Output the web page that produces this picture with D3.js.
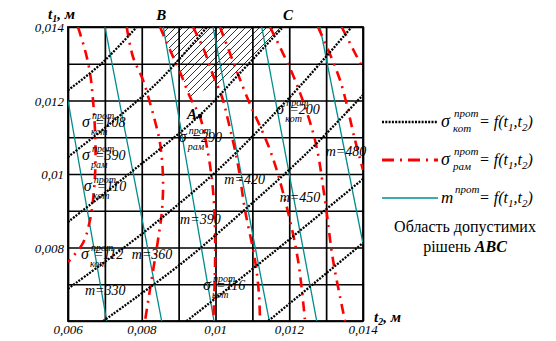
<!DOCTYPE html>
<html><head><meta charset="utf-8">
<script src="https://cdn.jsdelivr.net/npm/d3@7"></script>
<style>
body{margin:0;background:#fff}
svg text{font-family:"Liberation Serif","DejaVu Serif","Noto Serif","Times New Roman",serif}
</style>
</head><body>
<svg id="c" width="556" height="341" font-family="Liberation Serif, DejaVu Serif, serif"></svg>
<script>
// ---- data (t2, t1 in metres) ----
const domainT = [0.006, 0.014];
const gridValues = [0.006,0.007,0.008,0.009,0.010,0.011,0.012,0.013,0.014];
const xTickValues = [0.006,0.008,0.010,0.012,0.014];
const xTickLabels = ["0,006","0,008","0,01","0,012","0,014"];
const yTickValues = [0.008,0.010,0.012,0.014];
const yTickLabels = ["0,008","0,01","0,012","0,014"];

// sigma_kot contours (black dotted)
const kot1 = [[0.006,0.012278],[0.006922,0.013020],[0.007863,0.014]];
const kot2 = [[0.006,0.010463],[0.007329,0.011524],[0.008495,0.012558],[0.009770,0.014]];
const kot3 = [[0.006,0.008694],[0.007546,0.009918],[0.009580,0.011605],[0.010664,0.012748],[0.011831,0.014]];
const kot4 = [[0.006,0.006879],[0.008034,0.008395],[0.010122,0.010163],[0.012020,0.012095],[0.013694,0.014]];
const kot5 = [[0.006957,0.006],[0.009083,0.007570],[0.010936,0.009156],[0.012563,0.010653],[0.014,0.012150]];
const kot6 = [[0.009219,0.006],[0.011478,0.007796],[0.014,0.009864]];
const kot7 = [[0.011432,0.006],[0.014,0.008122]];

// sigma_ram contours (red dash-dot)
const ram1 = [[0.006271,0.014],[0.006461,0.013374],[0.006597,0.012748],[0.006678,0.012013],[0.006732,0.011197],[0.006746,0.010381],[0.006705,0.009565],[0.006597,0.008748],[0.006407,0.008122],[0.006,0.007605]];
const ram2 = [[0.007592,0.014],[0.007763,0.013184],[0.008034,0.012558],[0.008224,0.011932],[0.008386,0.011334],[0.008495,0.010844],[0.008576,0.009918],[0.008549,0.009020],[0.008441,0.008204],[0.008278,0.007197],[0.008088,0.006]];
const ram3 = [[0.008495,0.014],[0.008766,0.013374],[0.009037,0.012776],[0.009309,0.012095],[0.009580,0.011551],[0.009797,0.010571],[0.009932,0.009565],[0.009986,0.008476],[0.009986,0.007388],[0.009940,0.006]];
const ram4 = [[0.009390,0.014],[0.009688,0.013374],[0.009932,0.012694],[0.010176,0.012095],[0.010339,0.011469],[0.010610,0.010245],[0.010800,0.009020],[0.011071,0.007660],[0.011180,0.006707],[0.011207,0.006]];
const ram5 = [[0.010122,0.014],[0.010854,0.012095],[0.011478,0.010653],[0.011885,0.009293],[0.012237,0.007660],[0.012427,0.006]];
const ram6 = [[0.011478,0.014],[0.012156,0.012558],[0.012698,0.010925],[0.012969,0.009293],[0.013187,0.007660],[0.013512,0.006]];
const ram7 = [[0.012780,0.014],[0.013376,0.012558],[0.013783,0.010925],[0.014,0.010109]];
const ram8 = [[0.013422,0.014],[0.014,0.012865]];

// m contours (teal)
const m330 = [[0.006,0.012],[0.007050,0.006]];
const m360 = [[0.007003,0.014],[0.008541,0.006]];
const m390 = [[0.008584,0.014],[0.009959,0.006]];
const m420 = [[0.009932,0.014],[0.011459,0.006]];
const m450 = [[0.011253,0.014],[0.012745,0.006]];
const m480 = [[0.012834,0.014],[0.014,0.008103]];

const pointA = [0.009580, 0.011580];

// labels: [t2, t1, text]
const mLabels = [[0.006460,0.006700,"m=330"],[0.007730,0.007680,"m=360"],[0.009040,0.008640,"m=390"],[0.010240,0.009730,"m=420"],[0.011740,0.009240,"m=450"],[0.012990,0.010490,"m=480"]];
const sigmaLabels = [
  [0.006380,0.011280,"кот","=108"],
  [0.006380,0.010380,"рам","=390"],
  [0.006430,0.009540,"кот","=110"],
  [0.006350,0.007690,"кот","=112"],
  [0.009660,0.006840,"кот","=116"],
  [0.009000,0.010870,"рам","=290"],
  [0.011650,0.011630,"кот","=200"]
];

// ---- drawing ----
const svg = d3.select("#c");
const x = d3.scaleLinear(domainT, [68, 363]);
const y = d3.scaleLinear(domainT, [321, 27]);

const defs = svg.append("defs");
defs.append("clipPath").attr("id","plot").append("rect")
  .attr("x",68).attr("y",27).attr("width",295).attr("height",294);
const pat = defs.append("pattern").attr("id","hatch").attr("patternUnits","userSpaceOnUse")
  .attr("width",7).attr("height",7);
pat.append("path").attr("d","M-1,1 l2,-2 M0,7 l7,-7 M6,8 l2,-2").attr("stroke","#000").attr("stroke-width",0.8);

// grid via axes
svg.append("g").attr("transform","translate(0,321)")
  .call(d3.axisBottom(x).tickValues(gridValues).tickSize(-294).tickFormat(""));
svg.append("g").attr("transform","translate(68,0)")
  .call(d3.axisLeft(y).tickValues(gridValues).tickSize(-295).tickFormat(""));
svg.selectAll(".domain").remove();
svg.selectAll(".tick line").attr("stroke","#000").attr("stroke-width",1.7);
svg.append("rect").attr("x",68).attr("y",27).attr("width",295).attr("height",294)
  .attr("fill","none").attr("stroke","#000").attr("stroke-width",1.8);

// tick labels
svg.append("g").selectAll("text").data(xTickValues).join("text")
  .attr("x",d=>x(d)).attr("y",334).attr("text-anchor","middle")
  .attr("font-size",13).attr("font-style","italic").text((d,i)=>xTickLabels[i]);
svg.append("g").selectAll("text").data(yTickValues).join("text")
  .attr("x",64).attr("y",d=>y(d)+5).attr("text-anchor","end")
  .attr("font-size",13).attr("font-style","italic").text((d,i)=>yTickLabels[i]);

const plot = svg.append("g").attr("clip-path","url(#plot)");
const line = d3.line().x(d=>x(d[0])).y(d=>y(d[1])).curve(d3.curveCatmullRom);

// hatched region ABC
const regionPts = ram3.filter(d=>d[1]>=pointA[1]).concat(kot3.filter(d=>d[0]>pointA[0]));
plot.append("path").attr("d", d3.line().x(d=>x(d[0])).y(d=>y(d[1]))(regionPts)+"Z")
  .attr("fill","url(#hatch)");

// teal
[m330,m360,m390,m420,m450,m480].forEach(s=>{
  plot.append("path").attr("d",line(s)).attr("fill","none").attr("stroke","#008c8c").attr("stroke-width",1.3);
});
// red
[ram1,ram2,ram3,ram4,ram5,ram6,ram7,ram8].forEach(s=>{
  plot.append("path").attr("d",line(s)).attr("fill","none").attr("stroke","#ff0000")
    .attr("stroke-width",2.6).attr("stroke-dasharray","10,6,2,6");
});
// black
[kot1,kot2,kot3,kot4,kot5,kot6,kot7].forEach(s=>{
  plot.append("path").attr("d",line(s)).attr("fill","none").attr("stroke","#000")
    .attr("stroke-width",2.3).attr("stroke-dasharray","2,1.3");
});

// point A
svg.append("circle").attr("cx",x(pointA[0])).attr("cy",y(pointA[1])).attr("r",2.2).attr("fill","#000");
svg.append("text").attr("x",x(pointA[0])-13).attr("y",y(pointA[1])+3).attr("font-size",15)
  .attr("font-style","italic").attr("font-weight","bold").text("A");

// m labels
svg.append("g").selectAll("text").data(mLabels).join("text")
  .attr("x",d=>x(d[0])).attr("y",d=>y(d[1])).attr("font-size",14).attr("font-style","italic").text(d=>d[2]);

// sigma labels
const sg = svg.append("g").selectAll("g").data(sigmaLabels).join("g")
  .attr("transform",d=>`translate(${x(d[0])},${y(d[1])})`);
sg.append("text").attr("x",0).attr("y",0).attr("font-size",16).attr("font-style","italic").text("σ");
sg.append("text").attr("x",10).attr("y",-8).attr("font-size",10).attr("font-style","italic").text("прот");
sg.append("text").attr("x",9).attr("y",8).attr("font-size",10).attr("font-style","italic").text(d=>d[2]);
sg.append("text").attr("x",13).attr("y",0).attr("font-size",14).attr("font-style","italic").text(d=>d[3]);

// axis titles and corner letters
function title(tx,ty,main,sub){
  const t = svg.append("text").attr("x",tx).attr("y",ty).attr("font-size",15)
    .attr("font-style","italic").attr("font-weight","bold");
  t.append("tspan").text(main);
  t.append("tspan").attr("font-size",10).attr("dy",3).text(sub);
  t.append("tspan").attr("dy",-3).text(", м");
}
title(48,19,"t","1");
title(374,322,"t","2");
svg.append("text").attr("x",x(0.00850)-4).attr("y",20).attr("font-size",15).attr("font-style","italic").attr("font-weight","bold").text("B");
svg.append("text").attr("x",x(0.01183)).attr("y",20).attr("font-size",15).attr("font-style","italic").attr("font-weight","bold").text("C");

// legend
const legend = [
  {y:122, stroke:"#000", w:2.4, dash:"2,1.3", sym:"σ", sub:"кот"},
  {y:160, stroke:"#ff0000", w:3, dash:"12,6,2,6", sym:"σ", sub:"рам"},
  {y:198, stroke:"#008c8c", w:1.3, dash:null, sym:"m", sub:""}
];
const lg = svg.append("g").selectAll("g").data(legend).join("g");
lg.append("line").attr("x1",382).attr("x2",438).attr("y1",d=>d.y).attr("y2",d=>d.y)
  .attr("stroke",d=>d.stroke).attr("stroke-width",d=>d.w).attr("stroke-dasharray",d=>d.dash);
lg.append("text").attr("x",441).attr("y",d=>d.y+5).attr("font-size",d=>d.sym==="m"?17:18).attr("font-style","italic").text(d=>d.sym);
lg.append("text").attr("x",d=>d.sym==="m"?455:454).attr("y",d=>d.y-5).attr("font-size",11).attr("font-style","italic").text("прот");
lg.append("text").attr("x",453).attr("y",d=>d.y+10).attr("font-size",11).attr("font-style","italic").text(d=>d.sub);
const ft = lg.append("text").attr("x",479).attr("y",d=>d.y+5).attr("font-size",16).attr("font-style","italic");
ft.append("tspan").text("= f(t");
ft.append("tspan").attr("font-size",11).attr("dy",4).text("1");
ft.append("tspan").attr("dy",-4).text(",t");
ft.append("tspan").attr("font-size",11).attr("dy",4).text("2");
ft.append("tspan").attr("dy",-4).text(")");

svg.append("text").attr("x",465).attr("y",232).attr("text-anchor","middle").attr("font-size",16).text("Область допустимих");
const t2 = svg.append("text").attr("x",465).attr("y",252).attr("text-anchor","middle").attr("font-size",16);
t2.append("tspan").text("рішень ");
t2.append("tspan").attr("font-style","italic").attr("font-weight","bold").text("ABC");
</script>
</body></html>
